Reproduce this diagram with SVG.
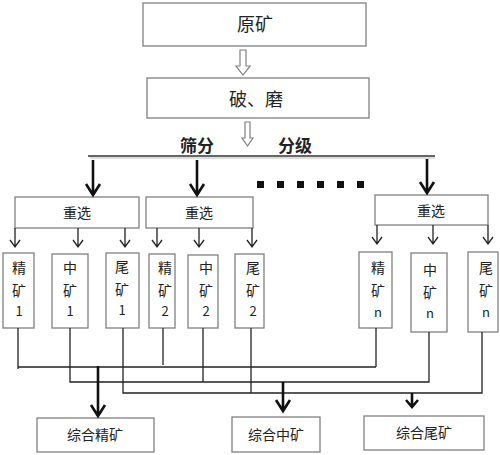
<svg xmlns="http://www.w3.org/2000/svg" width="500" height="455" viewBox="0 0 500 455">
<style>
.box{fill:#fff;stroke:#808080;stroke-width:1.3}
.t{font-family:"Noto Sans CJK SC","Noto Sans",sans-serif;fill:#222;text-anchor:middle}
.ln{stroke:#222;stroke-width:1.3;fill:none}
.thick{stroke:#111;stroke-width:2.6;fill:none}
.hollow{fill:#fff;stroke:#808080;stroke-width:1.2}
</style>
<rect width="500" height="455" fill="#fff"/>
<g id="yuankuang"><rect class="box" x="143" y="3" width="223" height="43"/><text class="t" x="255" y="31" font-size="18">原矿</text></g>
<g id="pomo"><rect class="box" x="147" y="78" width="222" height="40"/><text class="t" x="256" y="106" font-size="18">破、磨</text></g>
<g id="shaifen"><text class="t" x="197" y="152" font-size="17" font-weight="bold">筛分</text><text class="t" x="295" y="152" font-size="17" font-weight="bold">分级</text></g>
<g id="dots" fill="#111"><rect x="257" y="181" width="7" height="7"/><rect x="277" y="181" width="7" height="7"/><rect x="297" y="181" width="7" height="7"/><rect x="317" y="181" width="7" height="7"/><rect x="337" y="181" width="7" height="7"/><rect x="357" y="181" width="7" height="7"/></g>
<g id="chong1"><rect class="box" x="15" y="197" width="124" height="31"/><text class="t" x="77" y="218" font-size="14">重选</text></g>
<g id="chong2"><rect class="box" x="146" y="197" width="107" height="31"/><text class="t" x="199" y="218" font-size="14">重选</text></g>
<g id="chongn"><rect class="box" x="375" y="195" width="113" height="30"/><text class="t" x="431" y="216" font-size="14">重选</text></g>
<g id="jing1"><rect class="box" x="3" y="253" width="31" height="75"/><text class="t" x="19" y="273" font-size="14">精</text><text class="t" x="19" y="296" font-size="14">矿</text><text class="t" x="19" y="316" font-size="13">1</text></g>
<g id="zhong1"><rect class="box" x="52" y="254" width="36" height="74"/><text class="t" x="70" y="273" font-size="14">中</text><text class="t" x="70" y="296" font-size="14">矿</text><text class="t" x="70" y="316" font-size="13">1</text></g>
<g id="wei1"><rect class="box" x="106" y="253" width="33" height="75"/><text class="t" x="122" y="272" font-size="14">尾</text><text class="t" x="122" y="295" font-size="14">矿</text><text class="t" x="122" y="315" font-size="13">1</text></g>
<g id="jing2"><rect class="box" x="149" y="254" width="26" height="74"/><text class="t" x="165" y="273" font-size="14">精</text><text class="t" x="165" y="296" font-size="14">矿</text><text class="t" x="165" y="316" font-size="13">2</text></g>
<g id="zhong2"><rect class="box" x="188" y="255" width="30" height="73"/><text class="t" x="206" y="273" font-size="14">中</text><text class="t" x="206" y="296" font-size="14">矿</text><text class="t" x="206" y="316" font-size="13">2</text></g>
<g id="wei2"><rect class="box" x="235" y="254" width="29" height="74"/><text class="t" x="253" y="273" font-size="14">尾</text><text class="t" x="253" y="296" font-size="14">矿</text><text class="t" x="253" y="316" font-size="13">2</text></g>
<g id="jingn"><rect class="box" x="359" y="252" width="33" height="76"/><text class="t" x="378" y="273" font-size="14">精</text><text class="t" x="378" y="296" font-size="14">矿</text><text class="t" x="378" y="317" font-size="13">n</text></g>
<g id="zhongn"><rect class="box" x="411" y="253" width="36" height="79"/><text class="t" x="430" y="275" font-size="14">中</text><text class="t" x="430" y="298" font-size="14">矿</text><text class="t" x="430" y="318" font-size="13">n</text></g>
<g id="wein"><rect class="box" x="468" y="252" width="30" height="80"/><text class="t" x="486" y="273" font-size="14">尾</text><text class="t" x="486" y="296" font-size="14">矿</text><text class="t" x="486" y="317" font-size="13">n</text></g>
<g id="zhjing"><rect class="box" x="37" y="418" width="117" height="34" stroke="#444"/><text class="t" x="95" y="440" font-size="14">综合精矿</text></g>
<g id="zhzhong"><rect class="box" x="232" y="417" width="88" height="35" stroke="#444"/><text class="t" x="276" y="440" font-size="14">综合中矿</text></g>
<g id="zhwei"><rect class="box" x="364" y="416" width="120" height="34" stroke="#444"/><text class="t" x="424" y="438" font-size="14">综合尾矿</text></g>
<g id="connectors">
<polygon class="hollow" points="240,50 246,50 246,66 250,66 243,75 236,66 240,66"/>
<polygon class="hollow" points="245,122 250,122 250,138 253,138 247.5,146 242,138 245,138"/>
<line x1="88" y1="156" x2="435" y2="156" stroke="#333" stroke-width="1.6"/>
<line x1="90" y1="158" x2="435" y2="158" stroke="#aaa" stroke-width="0.8"/>
<path class="thick" d="M93 160V195M86 184L93 195L100 184"/>
<path class="thick" d="M197 160V195M190 184L197 195L204 184"/>
<path class="thick" d="M427 159V193M420 182L427 193L434 182"/>
<g class="ln">
<path d="M15 228V247M10 240L15 247L20 240"/>
<path d="M78 228V247M73 240L78 247L83 240"/>
<path d="M125 228V247M120 240L125 247L130 240"/>
<path d="M157 228V247M152 240L157 247L162 240"/>
<path d="M199 228V247M194 240L199 247L204 240"/>
<path d="M252 228V247M247 240L252 247L257 240"/>
<path d="M377 225V244M372 237L377 244L382 237"/>
<path d="M433 225V244M428 237L433 244L438 237"/>
<path d="M488 225V244M483 237L488 244L493 237"/>
<path d="M18 328V369M18 367H376M163 328V365M376 328V367"/>
<path d="M70 328V382H429V332M203 328V382"/>
<path d="M123 328V393H482V332M251 328V393"/>
</g>
<path class="thick" d="M98 366V416M91 405L98 416L105 405"/>
<path class="thick" d="M283 382V411M276 400L283 411L290 400"/>
<path class="thick" d="M412 393V407M406 400L412 407L418 400"/>
</g>
</svg>
